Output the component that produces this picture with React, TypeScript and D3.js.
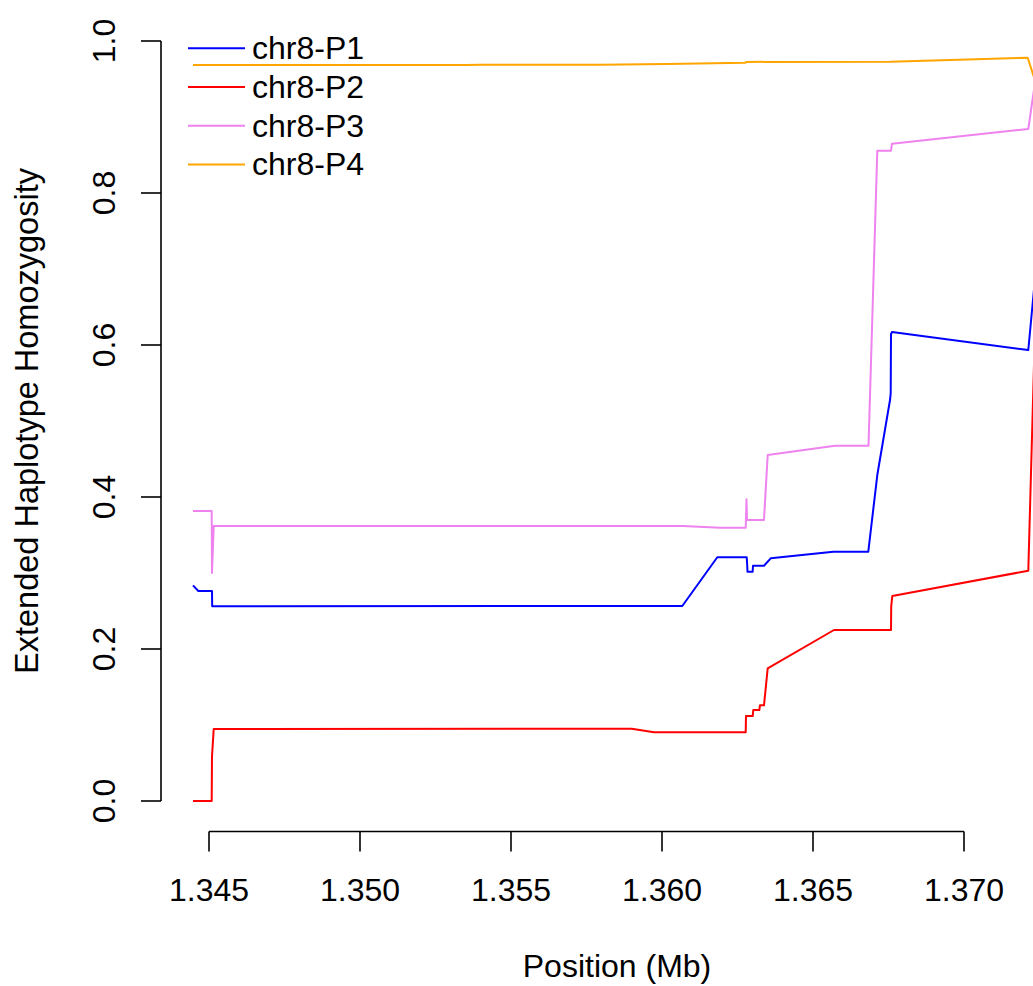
import React from 'react';
import * as d3 from 'd3';

// positions (Mb) and EHH values
const p1Pos = [1.34447, 1.344646, 1.345099, 1.345106, 1.360672, 1.361831, 1.362805, 1.362821, 1.362831, 1.363003, 1.363013, 1.363377, 1.363599, 1.365672, 1.366831, 1.367129, 1.36755, 1.367573, 1.367583, 1.367616, 1.372129, 1.372483];
const p1Ehh = [0.2838, 0.2763, 0.2763, 0.2562, 0.2566, 0.3207, 0.3207, 0.3105, 0.3017, 0.3017, 0.3096, 0.3096, 0.3193, 0.328, 0.328, 0.4289, 0.5276, 0.5364, 0.6145, 0.6171, 0.5934, 0.7434];

const p2Pos = [1.34447, 1.345089, 1.345099, 1.345156, 1.358997, 1.359735, 1.362772, 1.362781, 1.363003, 1.363023, 1.363222, 1.363245, 1.363377, 1.3635, 1.365695, 1.367583, 1.367589, 1.367626, 1.372129, 1.372483];
const p2Ehh = [0.0, 0.0, 0.0583, 0.0947, 0.0951, 0.0904, 0.0904, 0.1118, 0.1118, 0.1197, 0.1197, 0.1259, 0.1259, 0.1746, 0.225, 0.225, 0.2557, 0.2697, 0.303, 0.8118];

const p3Pos = [1.34447, 1.345089, 1.345099, 1.345156, 1.360695, 1.361921, 1.362772, 1.362798, 1.362815, 1.363377, 1.3635, 1.365728, 1.366838, 1.367129, 1.367583, 1.367616, 1.372129, 1.372483];
const p3Ehh = [0.3816, 0.3816, 0.3, 0.3618, 0.3618, 0.3596, 0.3596, 0.397, 0.3697, 0.3697, 0.4553, 0.4675, 0.4675, 0.8557, 0.8557, 0.8649, 0.8842, 0.9816];

const p4Pos = [1.34447, 1.35351, 1.353974, 1.357947, 1.360166, 1.362748, 1.362815, 1.36756, 1.372109, 1.372483];
const p4Ehh = [0.9684, 0.9684, 0.9689, 0.9689, 0.9697, 0.9714, 0.9725, 0.9728, 0.978, 0.9316];

const seriesNames = ['chr8-P1', 'chr8-P2', 'chr8-P3', 'chr8-P4'];
const seriesColors = ['#0000ff', '#ff0000', '#ee82ee', '#ffa500'];
const xTicks = [1.345, 1.35, 1.355, 1.36, 1.365, 1.37];
const yTicks = [0, 0.2, 0.4, 0.6, 0.8, 1.0];

const W = 1033;
const H = 986;
const font = '"Liberation Sans", Arial, sans-serif';

export default function App() {
  const x = d3.scaleLinear().domain([1.345, 1.37]).range([209, 964]);
  const y = d3.scaleLinear().domain([0, 1]).range([801, 41]);

  const series = [
    { pos: p1Pos, ehh: p1Ehh },
    { pos: p2Pos, ehh: p2Ehh },
    { pos: p3Pos, ehh: p3Ehh },
    { pos: p4Pos, ehh: p4Ehh },
  ];

  const line = d3.line<[number, number]>()
    .x(d => x(d[0]))
    .y(d => y(d[1]));

  const axisX = 161;
  const axisY = 831.5;

  return (
    <div style={{ width: W, height: H, overflow: 'hidden' }}>
      <style>{'body{margin:0}'}</style>
      <svg width={W} height={H} style={{ display: 'block', background: '#fff' }} fontFamily={font}>
        {/* series */}
        {series.map((s, i) => (
          <path
            key={seriesNames[i]}
            d={line(s.pos.map((p, j) => [p, s.ehh[j]]) as [number, number][]) || ''}
            fill="none"
            stroke={seriesColors[i]}
            strokeWidth={2}
            strokeLinejoin="round"
          />
        ))}

        {/* y axis */}
        <line x1={axisX} x2={axisX} y1={y(0)} y2={y(1)} stroke="#000" strokeWidth={1.6} />
        {yTicks.map(t => (
          <g key={t}>
            <line x1={axisX - 20} x2={axisX} y1={y(t)} y2={y(t)} stroke="#000" strokeWidth={1.6} />
            <text
              transform={`translate(115,${y(t)}) rotate(-90)`}
              textAnchor="middle"
              fontSize={32}
            >
              {t.toFixed(1)}
            </text>
          </g>
        ))}

        {/* x axis */}
        <line x1={x(xTicks[0])} x2={x(xTicks[xTicks.length - 1])} y1={axisY} y2={axisY} stroke="#000" strokeWidth={1.6} />
        {xTicks.map(t => (
          <g key={t}>
            <line x1={x(t)} x2={x(t)} y1={axisY} y2={axisY + 20} stroke="#000" strokeWidth={1.6} />
            <text x={x(t)} y={901} textAnchor="middle" fontSize={32}>
              {t.toFixed(3)}
            </text>
          </g>
        ))}

        <text x={617} y={977} textAnchor="middle" fontSize={32}>Position (Mb)</text>
        <text
          transform={`translate(38,${(10.6 + 831.4) / 2}) rotate(-90)`}
          textAnchor="middle"
          fontSize={32.5}
        >
          Extended Haplotype Homozygosity
        </text>

        {/* legend */}
        {seriesNames.map((name, i) => {
          const ly = 48.3 + i * 38.7;
          return (
            <g key={name}>
              <line x1={188} x2={245} y1={ly} y2={ly} stroke={seriesColors[i]} strokeWidth={2} />
              <text x={252} y={ly + 11} fontSize={32}>{name}</text>
            </g>
          );
        })}
      </svg>
    </div>
  );
}
